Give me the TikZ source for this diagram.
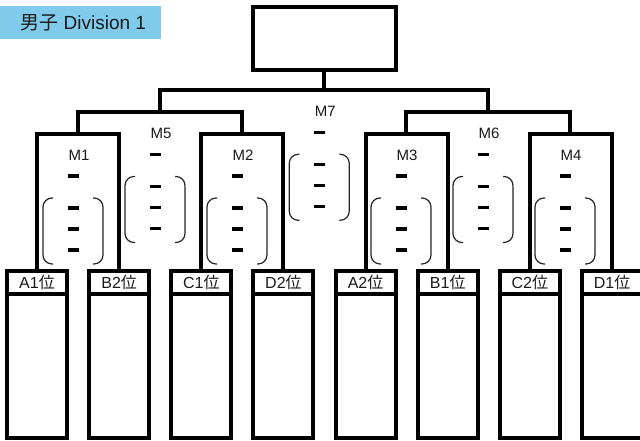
\documentclass[tikz,border=0pt]{standalone}
\usepackage{fontspec}
\setmainfont{Liberation Sans}
\newfontfamily\jpfont{Noto Sans CJK JP}
\definecolor{titleblue}{RGB}{128,203,235}
\definecolor{inkcol}{RGB}{25,25,25}
\tikzset{
  bracketline/.style={line width=4pt, draw=black},
  boxhead/.style={draw=black, line width=4pt, rectangle, minimum width=60pt, minimum height=22.5pt,
    inner sep=0pt, outer sep=0pt, anchor=north, text=inkcol, font=\fontsize{16}{18}\selectfont},
  boxbody/.style={draw=black, line width=4pt, rectangle, minimum width=60pt, minimum height=144.5pt,
    inner sep=0pt, outer sep=0pt, anchor=north},
  topbox/.style={draw=black, line width=4pt, rectangle, minimum width=142.5pt, minimum height=62.7pt,
    inner sep=0pt, outer sep=0pt},
  mlabel/.style={inner sep=0pt, text=inkcol, font=\fontsize{15}{17}\selectfont},
  dashbar/.style={rectangle, fill=black, minimum width=11pt, minimum height=3.5pt, inner sep=0pt},
  parenline/.style={line width=1.2pt, draw=black!85, rounded corners=9pt},
  titlebox/.style={fill=titleblue, minimum width=161pt, minimum height=33pt, inner sep=0pt,
    anchor=north west, text=inkcol, font=\fontsize{19}{21}\selectfont}
}
\newcommand\mgroup[4]{%
  \node[mlabel] (#1lab) at (#2+1,#3+21) {#4};
  \node[dashbar] (#1d0) at (#2-5,#3+42) {};
  \node[dashbar] (#1d1) at (#2-5,#3+74) {};
  \node[dashbar] (#1d2) at (#2-5,#3+95) {};
  \node[dashbar] (#1d3) at (#2-5,#3+116) {};
  \draw[parenline] (#2-25,#3+64) -- (#2-35,#3+64) -- (#2-35,#3+130) -- (#2-25,#3+130);
  \draw[parenline] (#2+15,#3+64) -- (#2+25,#3+64) -- (#2+25,#3+130) -- (#2+15,#3+130);
}
\begin{document}
\begin{tikzpicture}[x=1pt,y=-1pt]
\useasboundingbox (0,0) rectangle (640,441);

% title
\node[titlebox] (title) at (0,6) {\hspace*{5pt}{\jpfont 男子} Division 1};

% top box
\node[topbox] (top) at (324.25,38.35) {};

% team boxes
\foreach \i/\t in {0/A1,1/B2,2/C1,3/D2,4/A2,5/B1,6/C2,7/D1}{
  \node[boxhead] (h\t) at ({37+82.15*\i},271) {\t{\jpfont 位}};
  \node[boxbody] (b\t) at ({37+82.15*\i},293.5) {};
}

% bracket joints
\coordinate (m1) at (78,134);
\coordinate (m2) at (242,134);
\coordinate (m3) at (406,134);
\coordinate (m4) at (570,134);
\coordinate (m5) at (160,112.5);
\coordinate (m6) at (488,112.5);
\coordinate (m7) at (324.25,90.3);

% connectors
\draw[bracketline] (hA1.north) |- (m1) -| (hB2.north);
\draw[bracketline] (hC1.north) |- (m2) -| (hD2.north);
\draw[bracketline] (hA2.north) |- (m3) -| (hB1.north);
\draw[bracketline] (hC2.north) |- (m4) -| (hD1.north);
\draw[bracketline] (m1) |- (m5) -| (m2);
\draw[bracketline] (m3) |- (m6) -| (m4);
\draw[bracketline] (m5) |- (m7) -| (m6);
\draw[bracketline] (m7) -- (top.south);

% match contents
\mgroup{g1}{78}{134}{M1}
\mgroup{g2}{242}{134}{M2}
\mgroup{g3}{406}{134}{M3}
\mgroup{g4}{570}{134}{M4}
\mgroup{g5}{160}{112.5}{M5}
\mgroup{g6}{488}{112.5}{M6}
\mgroup{g7}{324.25}{90.3}{M7}
\end{tikzpicture}
\end{document}
